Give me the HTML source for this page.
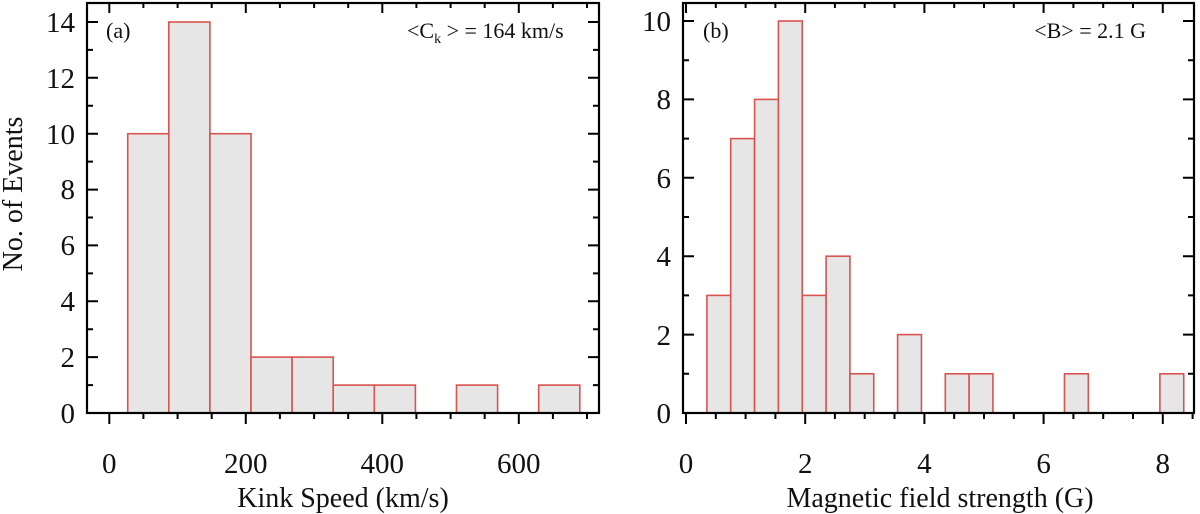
<!DOCTYPE html>
<html><head><meta charset="utf-8"><style>
html,body{margin:0;padding:0;background:#fff}
svg{display:block}
text{font-family:"Liberation Serif",serif;fill:#111}
.ax{fill:none;stroke:#000;stroke-width:2.2}
.tk{stroke:#000;stroke-width:2}
.b{fill:#e6e6e6;stroke:#d9534f;stroke-width:1.6}
</style></head><body>
<svg width="1200" height="514" viewBox="0 0 1200 514">
<!-- LEFT PANEL -->
<g>
<line x1="127.7" y1="413" x2="579.8" y2="413" stroke="#d9534f" stroke-width="1.6"/>
<rect class="b" x="127.7" y="133.7" width="41.1" height="279.3"/>
<rect class="b" x="168.8" y="22" width="41.1" height="391"/>
<rect class="b" x="209.9" y="133.7" width="41.1" height="279.3"/>
<rect class="b" x="251.0" y="357.1" width="41.1" height="55.9"/>
<rect class="b" x="292.1" y="357.1" width="41.1" height="55.9"/>
<rect class="b" x="333.2" y="385.1" width="41.1" height="27.9"/>
<rect class="b" x="374.3" y="385.1" width="41.1" height="27.9"/>
<rect class="b" x="456.5" y="385.1" width="41.1" height="27.9"/>
<rect class="b" x="538.7" y="385.1" width="41.1" height="27.9"/>
<rect class="ax" x="87" y="3" width="512" height="410"/>
<g class="tk">
<path d="M87 357.1h11M87 301.3h11M87 245.4h11M87 189.6h11M87 133.7h11M87 77.8h11M87 22h11
M599 357.1h-11M599 301.3h-11M599 245.4h-11M599 189.6h-11M599 133.7h-11M599 77.8h-11M599 22h-11
M87 385.1h6M87 329.2h6M87 273.4h6M87 217.5h6M87 161.6h6M87 105.8h6M87 49.9h6
M599 385.1h-6M599 329.2h-6M599 273.4h-6M599 217.5h-6M599 161.6h-6M599 105.8h-6M599 49.9h-6
M109.3 413v11M245.8 413v11M382.3 413v11M518.8 413v11
M143.4 413v6M177.6 413v6M211.7 413v6M279.9 413v6M314.1 413v6M348.2 413v6M416.4 413v6M450.6 413v6M484.7 413v6M552.9 413v6M587 413v6
M109.3 3v10M245.8 3v10M382.3 3v10M518.8 3v10
M143.4 3v5M177.6 3v5M211.7 3v5M279.9 3v5M314.1 3v5M348.2 3v5M416.4 3v5M450.6 3v5M484.7 3v5M552.9 3v5M587 3v5"/>
</g>
<g font-size="29" text-anchor="end">
<text x="75" y="423">0</text><text x="75" y="367">2</text><text x="75" y="311">4</text>
<text x="75" y="255">6</text><text x="75" y="199">8</text><text x="75" y="144">10</text>
<text x="75" y="88">12</text><text x="75" y="32">14</text>
</g>
<g font-size="29" text-anchor="middle">
<text x="109.3" y="473">0</text><text x="245.8" y="473">200</text><text x="382.3" y="473">400</text><text x="518.8" y="473">600</text>
</g>
<text x="343" y="507" font-size="28" text-anchor="middle">Kink Speed (km/s)</text>
<text transform="translate(22,194) rotate(-90)" font-size="28" text-anchor="middle">No. of Events</text>
<text x="106" y="38" font-size="22">(a)</text>
<text x="407" y="38" font-size="22">&lt;C<tspan font-size="14" dy="5">k</tspan><tspan dy="-5"> &gt; = 164 km/s</tspan></text>
</g>
<!-- RIGHT PANEL -->
<g>
<line x1="706.9" y1="413" x2="1183.7" y2="413" stroke="#d9534f" stroke-width="1.6"/>
<rect class="b" x="706.9" y="295.4" width="23.84" height="117.6"/>
<rect class="b" x="730.7" y="138.6" width="23.84" height="274.4"/>
<rect class="b" x="754.6" y="99.4" width="23.84" height="313.6"/>
<rect class="b" x="778.4" y="21" width="23.84" height="392"/>
<rect class="b" x="802.3" y="295.4" width="23.84" height="117.6"/>
<rect class="b" x="826.1" y="256.2" width="23.84" height="156.8"/>
<rect class="b" x="849.9" y="373.8" width="23.84" height="39.2"/>
<rect class="b" x="897.6" y="334.6" width="23.84" height="78.4"/>
<rect class="b" x="945.3" y="373.8" width="23.84" height="39.2"/>
<rect class="b" x="969.1" y="373.8" width="23.84" height="39.2"/>
<rect class="b" x="1064.5" y="373.8" width="23.84" height="39.2"/>
<rect class="b" x="1159.9" y="373.8" width="23.84" height="39.2"/>
<rect class="ax" x="683" y="3" width="511" height="410"/>
<g class="tk">
<path d="M683 334.6h11M683 256.2h11M683 177.8h11M683 99.4h11M683 21h11
M1194 334.6h-11M1194 256.2h-11M1194 177.8h-11M1194 99.4h-11M1194 21h-11
M683 373.8h6M683 295.4h6M683 217h6M683 138.6h6M683 60.2h6
M1194 373.8h-6M1194 295.4h-6M1194 217h-6M1194 138.6h-6M1194 60.2h-6
M686 413v11M805.2 413v11M924.4 413v11M1043.6 413v11M1162.8 413v11
M715.8 413v6M745.6 413v6M775.4 413v6M834.9 413v6M864.7 413v6M894.5 413v6M954.2 413v6M984 413v6M1013.8 413v6M1073.4 413v6M1103.2 413v6M1133 413v6M1192.6 413v6
M686 3v10M805.2 3v10M924.4 3v10M1043.6 3v10M1162.8 3v10
M715.8 3v5M745.6 3v5M775.4 3v5M834.9 3v5M864.7 3v5M894.5 3v5M954.2 3v5M984 3v5M1013.8 3v5M1073.4 3v5M1103.2 3v5M1133 3v5"/>
</g>
<g font-size="29" text-anchor="end">
<text x="671" y="423">0</text><text x="671" y="345">2</text><text x="671" y="266">4</text>
<text x="671" y="188">6</text><text x="671" y="109">8</text><text x="671" y="31">10</text>
</g>
<g font-size="29" text-anchor="middle">
<text x="686" y="473">0</text><text x="805.2" y="473">2</text><text x="924.4" y="473">4</text><text x="1043.6" y="473">6</text><text x="1162.8" y="473">8</text>
</g>
<text x="940" y="507" font-size="28" text-anchor="middle">Magnetic field strength (G)</text>
<text x="703" y="38" font-size="22">(b)</text>
<text x="1146" y="38" font-size="22" text-anchor="end">&lt;B&gt; = 2.1 G</text>
</g>
</svg>
</body></html>
